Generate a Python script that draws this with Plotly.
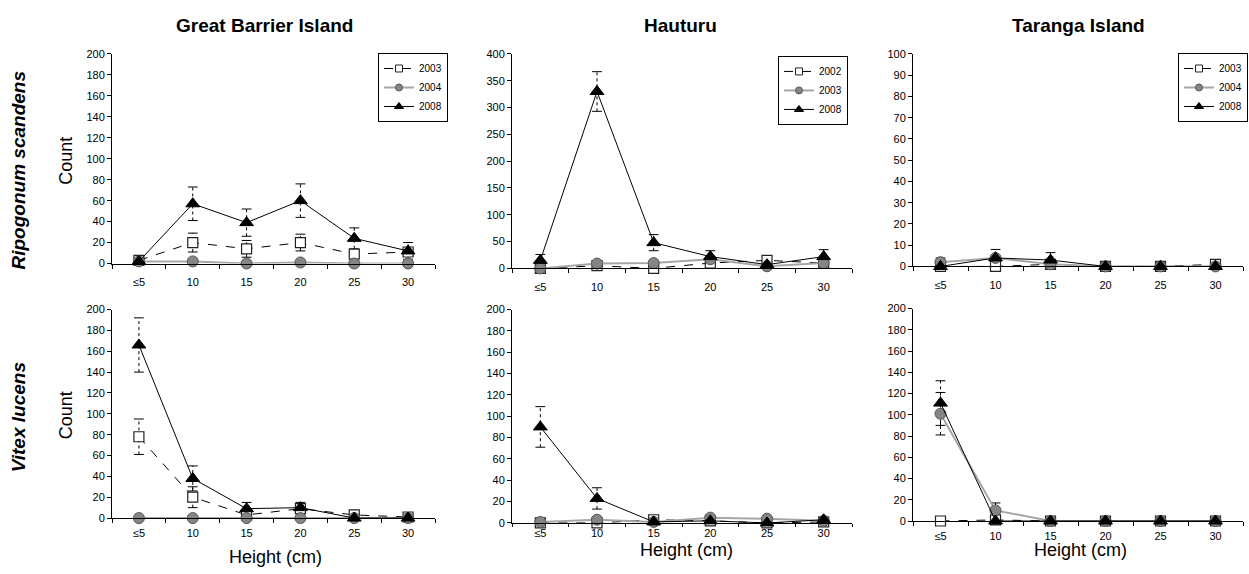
import plotly.graph_objects as go

W, H = 1249, 574

categories = ["≤5", "10", "15", "20", "25", "30"]

# Great Barrier Island – Ripogonum scandens
gbi_rip_2003 = [3, 20, 14, 20, 9, 11]
gbi_rip_2003_se = [0, 9, 8, 8, 0, 0]
gbi_rip_2004 = [2, 2, 0, 1, 0, 0]
gbi_rip_2004_se = [0, 0, 0, 0, 0, 0]
gbi_rip_2008 = [2, 57, 39, 60, 24, 12]
gbi_rip_2008_se = [0, 16, 13, 16, 10, 8]

# Hauturu – Ripogonum scandens
hau_rip_2002 = [0, 5, 0, 10, 15, 10]
hau_rip_2002_se = [0, 0, 0, 0, 0, 0]
hau_rip_2003 = [0, 9, 10, 17, 4, 10]
hau_rip_2003_se = [0, 0, 0, 0, 0, 0]
hau_rip_2008 = [15, 330, 48, 22, 7, 22]
hau_rip_2008_se = [11, 37, 15, 11, 0, 13]

# Taranga Island – Ripogonum scandens
tar_rip_2003 = [0, 0, 1, 0, 0, 1]
tar_rip_2003_se = [0, 0, 0, 0, 0, 0]
tar_rip_2004 = [2, 4, 1, 0, 0, 0]
tar_rip_2004_se = [2, 0, 0, 0, 0, 0]
tar_rip_2008 = [0, 4, 3, 0, 0, 0]
tar_rip_2008_se = [0, 4, 3.5, 0, 0, 0]

# Great Barrier Island – Vitex lucens
gbi_vit_2003 = [78, 20, 3, 9, 3, 1]
gbi_vit_2003_se = [17, 10, 0, 0, 0, 0]
gbi_vit_2004 = [0, 0, 0, 0, 0, 0]
gbi_vit_2004_se = [0, 0, 0, 0, 0, 0]
gbi_vit_2008 = [166, 38, 9, 10, 0, 0]
gbi_vit_2008_se = [26, 12, 6, 5, 0, 0]

# Hauturu – Vitex lucens
hau_vit_2002 = [0, 0, 3, 2, 0, 1]
hau_vit_2002_se = [0, 0, 0, 0, 0, 0]
hau_vit_2003 = [1, 3, 1, 5, 4, 2]
hau_vit_2003_se = [0, 0, 0, 0, 0, 0]
hau_vit_2008 = [90, 23, 1, 2, 0, 3]
hau_vit_2008_se = [19, 10, 0, 0, 0, 0]

# Taranga Island – Vitex lucens
tar_vit_2003 = [0, 1, 0, 0, 0, 0]
tar_vit_2003_se = [0, 0, 0, 0, 0, 0]
tar_vit_2004 = [101, 10, 0, 0, 0, 0]
tar_vit_2004_se = [20, 7, 0, 0, 0, 0]
tar_vit_2008 = [111, 0, 0, 0, 0, 0]
tar_vit_2008_se = [21, 0, 0, 0, 0, 0]

island_titles = ["Great Barrier Island", "Hauturu", "Taranga Island"]
species_labels = ["Ripogonum scandens", "Vitex lucens"]
years_gbi = ["2003", "2004", "2008"]
years_hau = ["2002", "2003", "2008"]
years_tar = ["2003", "2004", "2008"]

panels = [
    (years_gbi, [(gbi_rip_2003, gbi_rip_2003_se), (gbi_rip_2004, gbi_rip_2004_se), (gbi_rip_2008, gbi_rip_2008_se)]),
    (years_hau, [(hau_rip_2002, hau_rip_2002_se), (hau_rip_2003, hau_rip_2003_se), (hau_rip_2008, hau_rip_2008_se)]),
    (years_tar, [(tar_rip_2003, tar_rip_2003_se), (tar_rip_2004, tar_rip_2004_se), (tar_rip_2008, tar_rip_2008_se)]),
    (years_gbi, [(gbi_vit_2003, gbi_vit_2003_se), (gbi_vit_2004, gbi_vit_2004_se), (gbi_vit_2008, gbi_vit_2008_se)]),
    (years_hau, [(hau_vit_2002, hau_vit_2002_se), (hau_vit_2003, hau_vit_2003_se), (hau_vit_2008, hau_vit_2008_se)]),
    (years_tar, [(tar_vit_2003, tar_vit_2003_se), (tar_vit_2004, tar_vit_2004_se), (tar_vit_2008, tar_vit_2008_se)]),
]

# pixel layout of each panel: (x0, x1, ytop, ybottom)
boxes = [
    (112, 435, 49, 263), (512, 852, 49, 268), (913, 1243, 49, 266),
    (112, 435, 310, 523), (512, 852, 310, 528), (913, 1243, 309, 526),
]
yranges = [(200, 20), (400, 50), (100, 10), (200, 20), (200, 20), (200, 20)]
xlabel_standoff = [8, 8, 8, 5, 0, 5]
xtick_len = [4, 4, 4, 4, 3, 4]

styles = [
    dict(line=dict(color="black", width=1, dash="dash"),
         marker=dict(symbol="square", size=10, color="white", line=dict(color="#222", width=1.2))),
    dict(line=dict(color="#a6a6a6", width=2),
         marker=dict(symbol="circle", size=11, color="#858585", line=dict(color="#555", width=1))),
    dict(line=dict(color="black", width=1),
         marker=dict(symbol="triangle-up", size=12, color="black", line=dict(color="black", width=1))),
]
legend_styles = [
    dict(line=dict(color="black", width=1, dash="dash"),
         marker=dict(symbol="square", size=7, color="white", line=dict(color="#222", width=1))),
    dict(line=dict(color="#a6a6a6", width=2),
         marker=dict(symbol="circle", size=7, color="#858585", line=dict(color="#555", width=1))),
    dict(line=dict(color="black", width=1),
         marker=dict(symbol="triangle-up", size=8, color="black", line=dict(color="black", width=1))),
]

def px_x(p):
    return p / W

def px_y(p):
    return 1 - p / H

FONT = "Arial, Liberation Sans, sans-serif"
fig = go.Figure()

legend_names = ["legend", "legend2", "legend3"]

for i, (years, series) in enumerate(panels):
    xa = "x" if i == 0 else f"x{i+1}"
    ya = "y" if i == 0 else f"y{i+1}"
    # error bars (dotted)
    for (vals, se) in series:
        ex, ey, cx, cy = [], [], [], []
        for c, v, e in zip(categories, vals, se):
            if e > 0:
                lo, hi = max(v - e, 0), v + e
                ex += [c, c, None]
                ey += [lo, hi, None]
                cx += [c, c]
                cy += [lo, hi]
        if ex:
            fig.add_trace(go.Scatter(x=ex, y=ey, xaxis=xa, yaxis=ya, mode="lines",
                                     line=dict(color="black", width=1, dash="dot"),
                                     showlegend=False, hoverinfo="skip", cliponaxis=False))
            fig.add_trace(go.Scatter(x=cx, y=cy, xaxis=xa, yaxis=ya, mode="markers",
                                     marker=dict(symbol="line-ew-open", size=7, color="black",
                                                 line=dict(color="black", width=1)),
                                     showlegend=False, hoverinfo="skip", cliponaxis=False))
    for k, ((vals, se), yr) in enumerate(zip(series, years)):
        fig.add_trace(go.Scatter(x=categories, y=vals, xaxis=xa, yaxis=ya, mode="lines+markers",
                                 name=yr, showlegend=False, cliponaxis=False, **styles[k]))
        if i < 3:
            fig.add_trace(go.Scatter(x=[None], y=[None], xaxis=xa, yaxis=ya, mode="lines+markers",
                                     name=yr, showlegend=True, legend=legend_names[i],
                                     **legend_styles[k]))

layout = dict(
    width=W, height=H, margin=dict(l=0, r=0, t=0, b=0),
    paper_bgcolor="white", plot_bgcolor="white",
    font=dict(family=FONT, size=11, color="black"),
)
for i, (x0, x1, yt, yb) in enumerate(boxes):
    xk = "xaxis" if i == 0 else f"xaxis{i+1}"
    yk = "yaxis" if i == 0 else f"yaxis{i+1}"
    ya = "y" if i == 0 else f"y{i+1}"
    xa = "x" if i == 0 else f"x{i+1}"
    ymax, dt = yranges[i]
    layout[xk] = dict(domain=[px_x(x0), px_x(x1)], anchor=ya, type="category",
                      categoryorder="array", categoryarray=categories,
                      range=[-0.5, 5.5], tickson="boundaries", ticks="outside",
                      ticklen=xtick_len[i], tickcolor="black", showline=True,
                      linecolor="black", linewidth=1, showgrid=False, zeroline=False,
                      tickfont=dict(size=11, family=FONT),
                      ticklabelstandoff=xlabel_standoff[i], fixedrange=True)
    layout[yk] = dict(domain=[px_y(yb), px_y(yt)], anchor=xa, range=[0, ymax], dtick=dt,
                      ticks="outside", ticklen=4, tickcolor="black", showline=True,
                      linecolor="black", linewidth=1, showgrid=False, zeroline=False,
                      tickfont=dict(size=11, family=FONT), fixedrange=True)

legend_pos = [(448, 48), (848, 51), (1248, 48)]
for name, (rx, ty) in zip(legend_names, legend_pos):
    layout[name] = dict(x=px_x(rx), y=px_y(ty), xanchor="right", yanchor="top",
                        xref="paper", yref="paper",
                        bordercolor="black", borderwidth=1, bgcolor="white",
                        font=dict(size=10, family=FONT), itemwidth=30, tracegroupgap=0)

annotations = []
for t, cx in zip(island_titles, [264, 680, 1078]):
    annotations.append(dict(text=f"<b>{t}</b>", x=px_x(cx), y=px_y(20), xref="paper", yref="paper",
                            showarrow=False, font=dict(size=19, family=FONT), xanchor="center", yanchor="middle"))
for s, cy in zip(species_labels, [168, 420]):
    annotations.append(dict(text=f"<b><i>{s}</i></b>", x=px_x(18), y=px_y(cy), xref="paper", yref="paper",
                            showarrow=False, textangle=-90, font=dict(size=19, family=FONT),
                            xanchor="center", yanchor="middle"))
for cy in [158, 418]:
    annotations.append(dict(text="Count", x=px_x(66), y=px_y(cy), xref="paper", yref="paper",
                            showarrow=False, textangle=-90, font=dict(size=18, family=FONT),
                            xanchor="center", yanchor="middle"))
for cx, cy in [(275, 563), (686, 556), (1080, 556)]:
    annotations.append(dict(text="Height (cm)", x=px_x(cx), y=px_y(cy), xref="paper", yref="paper",
                            showarrow=False, font=dict(size=18, family=FONT),
                            xanchor="center", yanchor="middle"))
layout["annotations"] = annotations

fig.update_layout(**layout)
fig.write_html("out.html")
